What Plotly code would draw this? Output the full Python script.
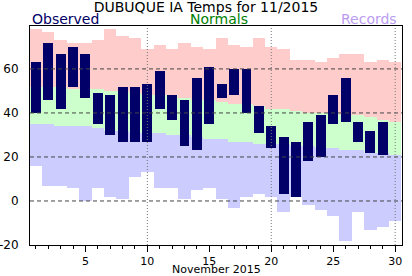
import plotly.graph_objects as go

days = list(range(1, 31))
obs_high = [63, 72, 67, 70, 67, 49, 48, 52, 52, 53, 59, 48, 46, 56, 61, 53, 60, 60, 43, 34,
            29, 27, 36, 39, 48, 56, 36, 32, 36, None]
obs_low = [40, 46, 42, 52, 47, 35, 30, 27, 27, 27, 42, 37, 25, 23, 35, 47, 48, 40, 31, 24,
           3, 2, 18, 20, 35, 36, 27, 22, 21, None]
rec_high = [78, 77, 73, 72, 72, 73, 78, 75, 74, 69, 71, 69, 72, 70, 69, 74, 71, 70, 74, 70,
            69, 64, 64, 63, 65, 67, 67, 63, 64, 63]
rec_low = [16, 7, 7, 6, 0, 6, 2, 1, 11, 13, 6, 6, 1, 5, 6, 1, -3, 2, 3, 2,
           -5, 2, -2, -4, -7, -18, -5, -13, -12, -9]
norm_high = [52, 52, 52, 51, 51, 51, 50, 50, 49, 48, 48, 48, 47, 46, 46, 45, 44, 44, 43, 42,
             42, 41, 40, 40, 40, 39, 39, 38, 37, 36]
norm_low = [35, 35, 34, 34, 34, 33, 32, 32, 31, 31, 31, 30, 30, 29, 28, 28, 27, 27, 26, 26,
            26, 25, 25, 24, 24, 23, 23, 22, 22, 21]
y_ticks = [-20, 0, 20, 40, 60]
y_ticklabels = [str(v) for v in y_ticks]
y_grid = [0, 20, 40, 60]
x_grid = [10, 20, 30]

FONT = "DejaVu Sans"

def band(lo, hi, color):
    return go.Bar(x=days, y=[h - l for h, l in zip(hi, lo)], base=lo, width=1,
                  marker=dict(color=color, line=dict(width=0)), hoverinfo="skip",
                  showlegend=False)

fig = go.Figure()
fig.add_trace(band(norm_high, rec_high, "#ffcccc"))
fig.add_trace(band(norm_low, norm_high, "#ccffcc"))
fig.add_trace(band(rec_low, norm_low, "#ccccff"))
fig.add_trace(go.Bar(
    x=days,
    y=[(h - l) if h is not None else None for h, l in zip(obs_high, obs_low)],
    base=obs_low, width=0.8,
    marker=dict(color="#000068", line=dict(width=0)), showlegend=False))

shapes = []
for v in y_grid:
    shapes.append(dict(type="line", xref="paper", x0=0, x1=1, yref="y", y0=v, y1=v,
                       layer="above", line=dict(color="#444444", width=1, dash="4px,3px")))
for v in x_grid:
    shapes.append(dict(type="line", yref="paper", y0=0, y1=1, xref="x", x0=v, x1=v,
                       layer="above", line=dict(color="#777777", width=1, dash="1px,2px")))

fig.update_layout(
    width=412, height=276,
    margin=dict(l=30, r=10, t=26, b=31, autoexpand=False),
    paper_bgcolor="white", plot_bgcolor="white",
    barmode="overlay", bargap=0,
    font=dict(family=FONT, color="black"),
    showlegend=False,
    shapes=shapes,
    title=dict(text="DUBUQUE IA Temps for 11/2015", x=0.5, xref="container",
               xanchor="center", y=1 - 2 / 276, yref="container", yanchor="top",
               pad=dict(t=0, b=0, l=0, r=0),
               font=dict(family=FONT, size=14, color="black")),
    xaxis=dict(range=[0.53, 30.55], showgrid=False, zeroline=False, automargin=False,
               tickmode="linear", tick0=0, dtick=5, ticks="outside", ticklen=6,
               tickcolor="black", tickwidth=1,
               minor=dict(dtick=1, tick0=0, ticks="outside", ticklen=3,
                          tickcolor="black", tickwidth=1, showgrid=False),
               showline=True, linecolor="black", linewidth=1, mirror=True,
               tickfont=dict(family=FONT, size=11, color="black")),
    yaxis=dict(range=[-20, 79.5], showgrid=False, zeroline=False, automargin=False,
               tickmode="array", tickvals=y_ticks, ticktext=y_ticklabels, ticks="",
               ticklabelstandoff=8,
               showline=True, linecolor="black", linewidth=1, mirror=True,
               tickfont=dict(family=FONT, size=12, color="black")),
    annotations=[
        dict(text="Observed", xref="paper", yref="paper", x=0, y=1.03,
             xanchor="left", yanchor="middle", showarrow=False,
             font=dict(family=FONT, size=14, color="#000066")),
        dict(text="Normals", xref="paper", yref="paper", x=0.508, y=1.03,
             xanchor="center", yanchor="middle", showarrow=False,
             font=dict(family=FONT, size=14, color="#008000")),
        dict(text="Records", xref="paper", yref="paper", x=0.992, y=1.03,
             xanchor="right", yanchor="middle", showarrow=False,
             font=dict(family=FONT, size=14, color="#bb9cf0")),
        dict(text="November 2015", xref="paper", yref="paper", x=0.5, y=-0.11,
             xanchor="center", yanchor="middle", showarrow=False,
             font=dict(family=FONT, size=11, color="black")),
    ],
)

fig.write_html("out.html")
